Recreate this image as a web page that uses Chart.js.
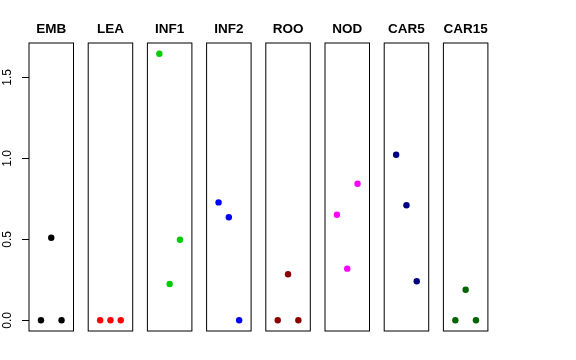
<!DOCTYPE html>
<html>
<head>
<meta charset="utf-8">
<script src="https://cdn.jsdelivr.net/npm/chart.js@4.4.1/dist/chart.umd.min.js"></script>
<style>
  body { margin: 0; background: #fff; }
  #wrap { position: relative; width: 576px; height: 360px; }
  #wrap canvas { position: absolute; top: 0; }
</style>
</head>
<body>
<div id="wrap"></div>
<script>
// --- DATA ---
const panels = ['EMB', 'LEA', 'INF1', 'INF2', 'ROO', 'NOD', 'CAR5', 'CAR15'];
const colors = ['#000000', '#ff0000', '#00cd00', '#0000ff', '#8b0000', '#ff00ff', '#000080', '#006400'];
const xPos = [1, 2, 3];
const EMB = [0, 0.51, 0];
const LEA = [0, 0, 0];
const INF1 = [1.646, 0.224, 0.497];
const INF2 = [0.728, 0.636, 0];
const ROO = [0, 0.284, 0];
const NOD = [0.652, 0.319, 0.843];
const CAR5 = [1.022, 0.710, 0.241];
const CAR15 = [0, 0.189, 0];
const series = [EMB, LEA, INF1, INF2, ROO, NOD, CAR5, CAR15];
const yTicks = [0, 0.5, 1.0, 1.5];

// --- LAYOUT ---
const FONT = 'Liberation Sans, Arial, Helvetica, sans-serif';
const boxLeft0 = 29;      // left edge of first panel box
const boxStep = 59.2;     // distance between panel boxes
const boxWidth = 44.5;
const boxTop = 43, boxBottom = 331;
const canvasH = 340;
const yMin = -0.066, yMax = 1.712;

// frame round each panel + its title centred over the frame
const boxPlugin = {
  id: 'box',
  afterDraw(chart, args, opts) {
    const a = chart.chartArea, c = chart.ctx;
    c.save();
    c.strokeStyle = '#000';
    c.lineWidth = 1;
    c.strokeRect(a.left, a.top, a.right - a.left, a.bottom - a.top);
    c.fillStyle = '#000';
    c.font = 'bold 13.5px ' + FONT;
    c.textAlign = 'center';
    c.textBaseline = 'middle';
    c.fillText(opts.title, (a.left + a.right) / 2, 29.5);
    c.restore();
  }
};

const wrap = document.getElementById('wrap');

panels.forEach((name, i) => {
  const first = i === 0;
  const boxL = boxLeft0 + boxStep * i;
  const cLeft = first ? 0 : Math.floor(boxL) - 4;
  const padL = first ? 0 : boxL - cLeft;
  const cWidth = Math.ceil(boxL + boxWidth + 4) - cLeft;
  const padR = cWidth - (boxL - cLeft) - boxWidth;

  const canvas = document.createElement('canvas');
  canvas.width = cWidth;
  canvas.height = canvasH;
  canvas.style.left = cLeft + 'px';
  canvas.style.width = cWidth + 'px';
  canvas.style.height = canvasH + 'px';
  wrap.appendChild(canvas);

  const yScale = {
    type: 'linear',
    min: yMin,
    max: yMax,
    display: first,
    position: 'left'
  };
  if (first) {
    Object.assign(yScale, {
      afterBuildTicks: s => { s.ticks = yTicks.map(v => ({ value: v })); },
      afterFit: s => { s.width = boxLeft0; s.paddingTop = 0; s.paddingBottom = 0; },
      grid: { drawOnChartArea: false, drawTicks: true, tickLength: 7, color: '#000' },
      border: { display: false },
      ticks: {
        color: '#000',
        font: { family: FONT, size: 12 },
        padding: 6,
        minRotation: 90,
        maxRotation: 90,
        crossAlign: 'center',
        callback: v => v.toFixed(1)
      }
    });
  }

  new Chart(canvas.getContext('2d'), {
    type: 'scatter',
    data: {
      datasets: [{
        data: xPos.map((x, k) => ({ x: x, y: series[i][k] })),
        backgroundColor: colors[i],
        borderWidth: 0,
        pointRadius: 3.2,
        pointHoverRadius: 3.2,
        clip: false
      }]
    },
    options: {
      responsive: false,
      animation: false,
      events: [],
      layout: { padding: { left: padL, right: padR, top: boxTop, bottom: canvasH - boxBottom } },
      plugins: {
        legend: { display: false },
        tooltip: { enabled: false },
        title: { display: false },
        box: { title: name }
      },
      scales: {
        x: { type: 'linear', min: -0.16, max: 4.16, display: false },
        y: yScale
      }
    },
    plugins: [boxPlugin]
  });
});
</script>
</body>
</html>
